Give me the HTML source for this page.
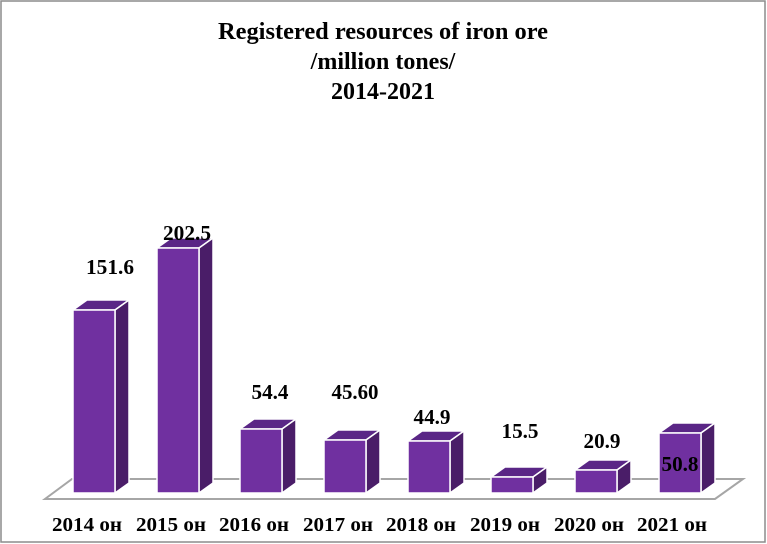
<!DOCTYPE html>
<html><head><meta charset="utf-8"><style>
html,body{margin:0;padding:0;background:#fff}
svg{display:block}
text{font-family:"Liberation Serif",serif;font-weight:bold;fill:#000}
</style></head><body>
<svg width="767" height="544" viewBox="0 0 767 544" xmlns="http://www.w3.org/2000/svg">
<rect x="1" y="1" width="764" height="541" fill="#fff" stroke="#8c8c8c" stroke-width="1.5"/>
<text x="383" y="39" font-size="24" text-anchor="middle" textLength="330" lengthAdjust="spacingAndGlyphs">Registered resources of iron ore</text>
<text x="383" y="69" font-size="24" text-anchor="middle">/million tones/</text>
<text x="383" y="99" font-size="24" text-anchor="middle">2014-2021</text>
<polygon points="45,499 715,499 743,479 72,479" fill="#fff" stroke="#a6a6a6" stroke-width="2"/>
<g stroke="#fff" stroke-width="1.5" stroke-linejoin="round">
<g id="bars"></g>
</g>
<g font-size="21" text-anchor="middle">
<text x="110" y="274" textLength="48" lengthAdjust="spacingAndGlyphs">151.6</text>
<text x="187" y="240" textLength="48" lengthAdjust="spacingAndGlyphs">202.5</text>
<text x="270" y="399" textLength="37" lengthAdjust="spacingAndGlyphs">54.4</text>
<text x="355" y="399" textLength="47" lengthAdjust="spacingAndGlyphs">45.60</text>
<text x="432" y="424" textLength="37" lengthAdjust="spacingAndGlyphs">44.9</text>
<text x="520" y="438" textLength="37" lengthAdjust="spacingAndGlyphs">15.5</text>
<text x="602" y="448" textLength="37" lengthAdjust="spacingAndGlyphs">20.9</text>
</g>
<g font-size="20" text-anchor="middle">
<text x="87" y="531" textLength="70" lengthAdjust="spacingAndGlyphs">2014 он</text>
<text x="171" y="531" textLength="70" lengthAdjust="spacingAndGlyphs">2015 он</text>
<text x="254" y="531" textLength="70" lengthAdjust="spacingAndGlyphs">2016 он</text>
<text x="338" y="531" textLength="70" lengthAdjust="spacingAndGlyphs">2017 он</text>
<text x="421" y="531" textLength="70" lengthAdjust="spacingAndGlyphs">2018 он</text>
<text x="505" y="531" textLength="70" lengthAdjust="spacingAndGlyphs">2019 он</text>
<text x="589" y="531" textLength="70" lengthAdjust="spacingAndGlyphs">2020 он</text>
<text x="672" y="531" textLength="70" lengthAdjust="spacingAndGlyphs">2021 он</text>
</g>
<script>
var xs=[73,157,240,324,408,491,575,659],tops=[310,248,429,440,441,477,470,433];
var g=document.getElementById('bars'),ns='http://www.w3.org/2000/svg',w=42,dx=14,dy=10,b=493;
function p(pts,f){var e=document.createElementNS(ns,'polygon');e.setAttribute('points',pts);e.setAttribute('fill',f);g.appendChild(e);}
for(var i=0;i<8;i++){var x=xs[i],t=tops[i];
p(x+','+t+' '+(x+w)+','+t+' '+(x+w+dx)+','+(t-dy)+' '+(x+dx)+','+(t-dy),'#5a2686');
p((x+w)+','+t+' '+(x+w+dx)+','+(t-dy)+' '+(x+w+dx)+','+(b-dy)+' '+(x+w)+','+b,'#4a1d68');
p(x+','+t+' '+(x+w)+','+t+' '+(x+w)+','+b+' '+x+','+b,'#7030a0');}
var tx=document.createElementNS(ns,'text');tx.setAttribute('x','680');tx.setAttribute('y','471');tx.setAttribute('font-size','21');tx.setAttribute('text-anchor','middle');tx.setAttribute('textLength','37');tx.setAttribute('lengthAdjust','spacingAndGlyphs');tx.textContent='50.8';document.querySelector('svg').appendChild(tx);
</script>
</svg>
</body></html>
